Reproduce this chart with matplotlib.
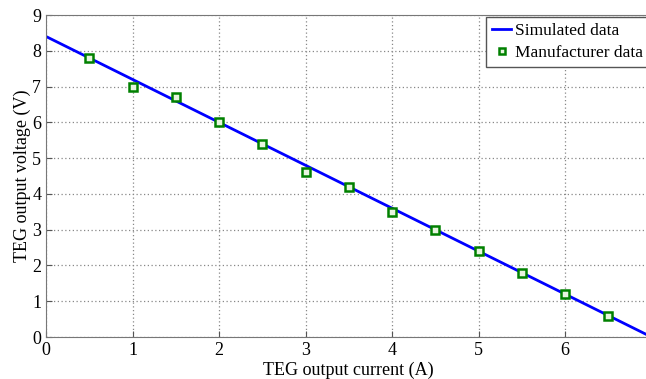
import matplotlib.pyplot as plt
import numpy as np

plt.rcParams['font.family'] = ['Liberation Serif', 'DejaVu Serif']

# simulated line (end points of the linear fit)
sim_current = [0, 7]
sim_voltage = [8.4, 0.0]

# manufacturer data points
man_current = [0.5, 1.0, 1.5, 2.0, 2.5, 3.0, 3.5, 4.0, 4.5, 5.0, 5.5, 6.0, 6.5]
man_voltage = [7.8, 7.0, 6.7, 6.0, 5.4, 4.6, 4.2, 3.5, 3.0, 2.4, 1.8, 1.2, 0.6]

fig = plt.figure(figsize=(6.46, 3.79), dpi=100)
# axes runs a little past the right edge, like the cropped original
ax = fig.add_axes([46/646, 1 - 337/379, 605.5/646, 322/379])

ax.plot(sim_current, sim_voltage, color='#0000ff', lw=2, label='Simulated data')
ax.plot(man_current, man_voltage, 's', ms=5.5, mfc='#e8f5e0', mec='#008000', mew=1.8,
        label='Manufacturer data')

ax.set_xlim(0, 7)
ax.set_ylim(0, 9)
ax.set_xticks(range(0, 7))
ax.set_yticks(range(0, 10))
ax.grid(True, ls=(0, (1, 2)), color='#888888', lw=0.9)
ax.tick_params(direction='in', labelsize=13, length=4, colors='#555555', labelcolor='black')
for s in ax.spines.values():
    s.set_color('#777777')

ax.set_xlabel('TEG output current (A)', fontsize=13, labelpad=2)
ax.set_ylabel('TEG output voltage (V)', fontsize=13, labelpad=1)

fig.legend(loc='upper left', bbox_to_anchor=(486/646, 1 - 17/379), fontsize=12.5,
           fancybox=False, edgecolor='#555555', framealpha=1, borderpad=0.35,
           handlelength=1.1, handletextpad=0.2, labelspacing=0.3, borderaxespad=0,
           markerscale=0.7)

fig.savefig('out.png', dpi=100)
